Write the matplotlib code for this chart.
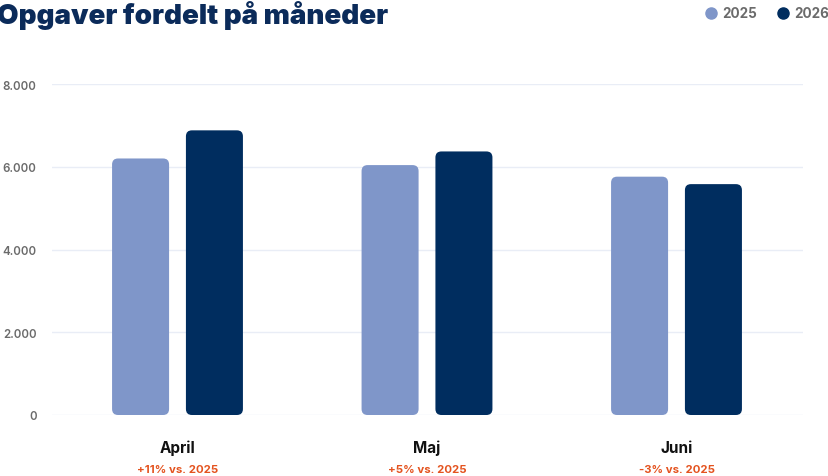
import matplotlib
matplotlib.use("Agg")
import matplotlib.pyplot as plt
from matplotlib.patches import FancyBboxPatch
from matplotlib.lines import Line2D

months = ["April", "Maj", "Juni"]
v2025 = [6200, 6040, 5760]
v2026 = [6880, 6370, 5580]
changes = ["+11% vs. 2025", "+5% vs. 2025", "-3% vs. 2025"]
series_labels = ["2025", "2026"]
yticks = [0, 2000, 4000, 6000, 8000]
ytick_labels = ["0", "2.000", "4.000", "6.000", "8.000"]

c25 = "#7F96C9"
c26 = "#002D5F"
navy = "#0B2B5A"
orange = "#E4531F"
gray = "#6B6B6B"

plt.rcParams['font.family'] = ['Inter', 'DejaVu Sans']

W, H = 829, 477
fig = plt.figure(figsize=(W/100, H/100), dpi=100)
ax = fig.add_axes([52/W, (H-416)/H, (803-52)/W, (416-85)/H])
ax.set_xlim(-0.503, 2.507)
ax.set_ylim(0, 8000)

bw = 0.2285
off = 0.148
ypp = 8000/331
xpp = 3.01/751
asp = ypp/xpp
r = 6*xpp
for i, (a, b) in enumerate(zip(v2025, v2026)):
    for x0, val, col in [(i-off-bw/2, a, c25), (i+off-bw/2, b, c26)]:
        p = FancyBboxPatch((x0, 0), bw, val,
                           boxstyle=f"round,pad=0,rounding_size={r}",
                           mutation_aspect=asp, facecolor=col, edgecolor='none', zorder=3)
        ax.add_patch(p)

for t in yticks:
    ax.axhline(t, color="#E9EDF6", lw=1.0, zorder=1)
ax.set_yticks(yticks)
ax.set_yticklabels(ytick_labels, fontsize=8.3, fontweight='semibold', color=gray)
ax.tick_params(axis='y', length=0, pad=11)
ax.set_xticks([])
for s in ax.spines.values():
    s.set_visible(False)

for i, (m, c) in enumerate(zip(months, changes)):
    ax.text(i, -780, m, ha='center', va='center', fontsize=11, fontweight='bold', color='#111111')
    ax.text(i, -1300, c, ha='center', va='center', fontsize=8.2, fontweight='bold', color=orange)

fig.text(-3/W, 1-15/H, "Opgaver fordelt på måneder", fontsize=20, fontweight='black',
         color=navy, ha='left', va='center')

for xc, col, lab, xt in [(711, c25, "2025", 722), (783, c26, "2026", 794)]:
    fig.add_artist(Line2D([xc/W], [1-14/H], marker='o', markersize=8, color=col,
                          linestyle='none', transform=fig.transFigure))
    fig.text(xt/W, 1-14/H, lab, fontsize=9.7, fontweight='bold', color=gray, ha='left', va='center')

fig.savefig("out.png", dpi=100)
